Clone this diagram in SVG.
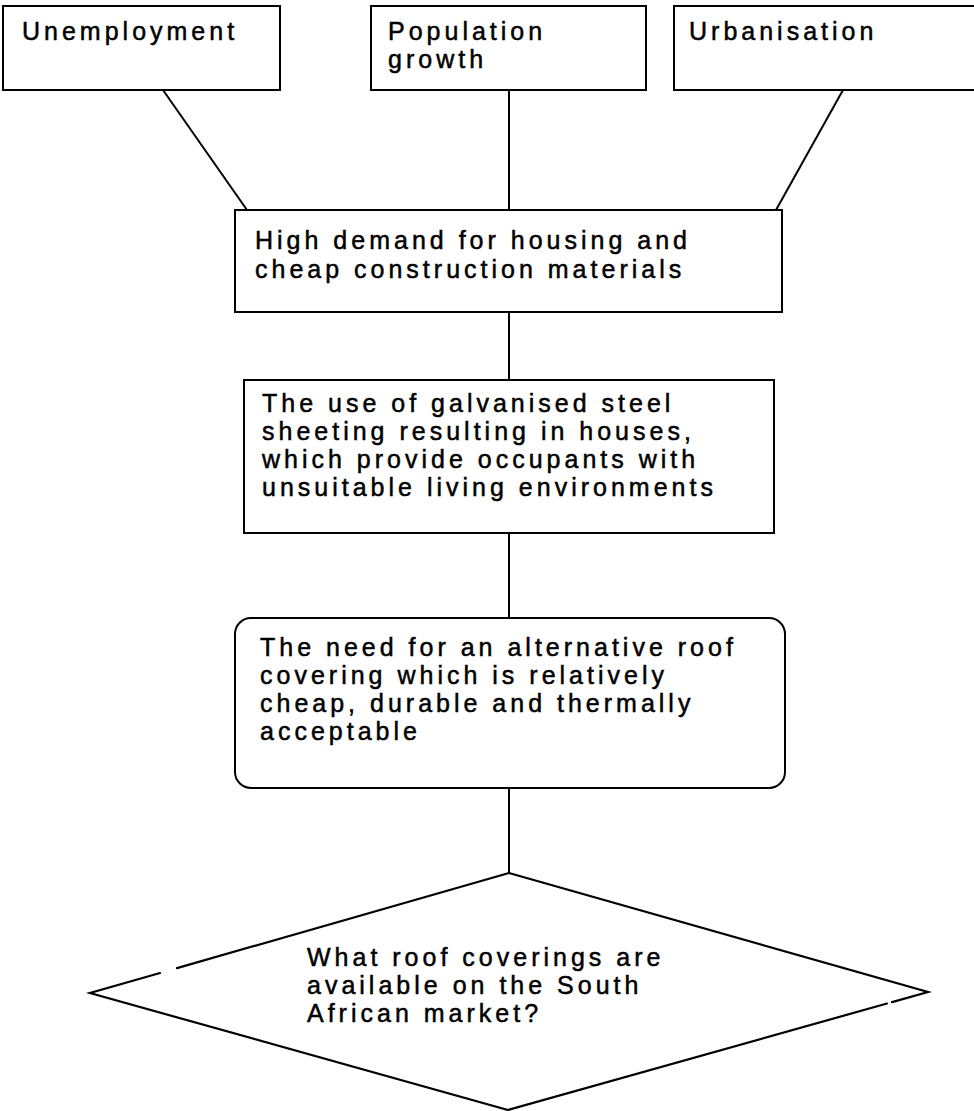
<svg xmlns="http://www.w3.org/2000/svg" width="974" height="1111" viewBox="0 0 974 1111">
<style>
.box{fill:#fff;stroke:#000;stroke-width:2}
.edge{fill:none;stroke:#000;stroke-width:2.2;stroke-linecap:round}
.conn line{stroke:#000;stroke-width:2;fill:none}
text{font-family:"Liberation Sans",Arial,Helvetica,sans-serif;font-size:25px;letter-spacing:4px;fill:#000;stroke:#000;stroke-width:0.5}
</style>
<rect width="974" height="1111" fill="#fff"/>
<g class="conn" id="connectors">
<line x1="163" y1="90" x2="247" y2="210"/>
<line x1="509" y1="90" x2="509" y2="210"/>
<line x1="843" y1="90" x2="776" y2="210"/>
<line x1="509" y1="312" x2="509" y2="380"/>
<line x1="509" y1="533" x2="509" y2="618"/>
<line x1="509" y1="788" x2="509" y2="873"/>
</g>
<g id="n-unemployment">
<rect class="box" x="3" y="6" width="277" height="84"/>
<text x="22" y="40">Unemployment</text>
</g>
<g id="n-population">
<rect class="box" x="371" y="6" width="275" height="84"/>
<text x="388" y="40">Population</text>
<text x="388" y="68">growth</text>
</g>
<g id="n-urbanisation">
<rect class="box" x="674" y="6" width="310" height="84"/>
<text x="689" y="40">Urbanisation</text>
</g>
<g id="n-demand">
<rect class="box" x="235" y="210" width="547" height="102"/>
<text x="255" y="249">High demand for housing and</text>
<text x="255" y="278">cheap construction materials</text>
</g>
<g id="n-steel">
<rect class="box" x="244" y="380" width="530" height="153"/>
<text x="262" y="412">The use of galvanised steel</text>
<text x="262" y="440">sheeting resulting in houses,</text>
<text x="262" y="468">which provide occupants with</text>
<text x="262" y="496">unsuitable living environments</text>
</g>
<g id="n-need">
<rect class="box" x="235" y="618" width="550" height="170" rx="16" ry="16"/>
<text x="260" y="656">The need for an alternative roof</text>
<text x="260" y="684">covering which is relatively</text>
<text x="260" y="712">cheap, durable and thermally</text>
<text x="260" y="740">acceptable</text>
</g>
<g id="n-question">
<polygon points="509,873 928,992 508,1110 90,993" fill="#fff"/>
<path class="edge" d="M509,873 L928,992 L892,1002.1 M887,1003.5 L508,1110 L90,993 L160,973 M177,968.1 L509,873"/>
<text x="307" y="966">What roof coverings are</text>
<text x="307" y="994">available on the South</text>
<text x="307" y="1022">African market?</text>
</g>
</svg>
